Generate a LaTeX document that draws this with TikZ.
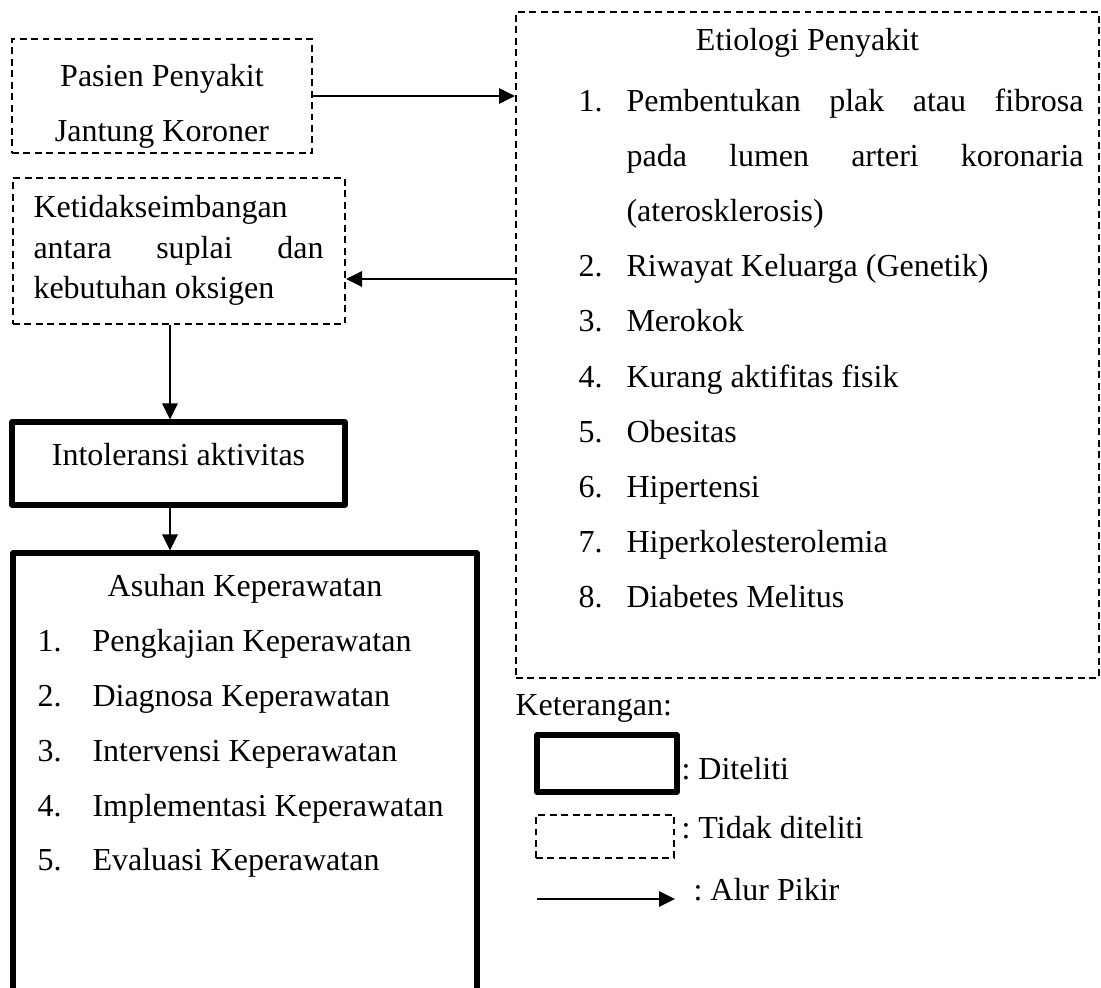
\documentclass[tikz,border=0pt]{standalone}
\usepackage{fontspec}
\setmainfont{Liberation Serif}
\usetikzlibrary{arrows.meta,fit}
\newlength\upx
\setlength\upx{0.375pt}
\frenchspacing
\begin{document}
\begin{tikzpicture}[x=0.375pt,y=-0.375pt,
  font=\fontsize{12pt}{14pt}\selectfont,
  dbox/.style={draw,dash pattern=on 2.6pt off 1.7pt,line width=0.75pt,inner sep=0pt},
  tbox/.style={draw,line width=1.9pt,line join=round,inner sep=0pt},
  arr/.style={line width=1.1pt,-{Triangle[length=6pt,width=5.6pt]}},
  txt/.style={inner sep=0pt,anchor=base west},
  ctxt/.style={inner sep=0pt,anchor=base}]
\clip (0,0) rectangle (1101,987);
% box corners
\coordinate (p1) at (12,39);   \coordinate (p2) at (312,153);
\coordinate (k1) at (13,178);  \coordinate (k2) at (345,324);
\coordinate (i1) at (12,422);  \coordinate (i2) at (345,505);
\coordinate (a1) at (13,553);  \coordinate (a2) at (477,1010);
\coordinate (e1) at (516,12);  \coordinate (e2) at (1099,678);
\coordinate (l1) at (537,735); \coordinate (l2) at (677,792);
\coordinate (m1) at (536,815); \coordinate (m2) at (674,858);
\node[dbox,fit=(p1)(p2)] (pasien) {};
\node[dbox,fit=(k1)(k2)] (ketidak) {};
\node[tbox,fit=(i1)(i2)] (intol) {};
\node[tbox,fit=(a1)(a2)] (asuhan) {};
\node[dbox,fit=(e1)(e2)] (etio) {};
\node[tbox,fit=(l1)(l2)] (legthick) {};
\node[dbox,fit=(m1)(m2)] (legdash) {};
% texts
\node[ctxt] (tp1) at (162,87) {Pasien Penyakit};
\node[ctxt] (tp2) at (162,142) {Jantung Koroner};
\node[txt] (tk1) at (33,218) {Ketidakseimbangan};
\node[txt] (tk2) at (33,258) {\makebox[290\upx][s]{antara suplai dan}};
\node[txt] (tk3) at (33,298) {kebutuhan oksigen};
\node[ctxt] (ti) at (178.5,465) {Intoleransi aktivitas};
\node[ctxt] (ta0) at (245,596) {Asuhan Keperawatan};
\foreach \n/\t/\y in {1/Pengkajian Keperawatan/651,2/Diagnosa Keperawatan/706,3/Intervensi Keperawatan/761,4/Implementasi Keperawatan/816,5/Evaluasi Keperawatan/870}{
  \node[txt] (an\n) at (37,\y) {\n.};
  \node[txt] (at\n) at (92,\y) {\t};
}
\node[ctxt] (te0) at (807.5,51) {Etiologi Penyakit};
\node[txt] (en1) at (578,112) {1.};
\node[txt] (et1a) at (626,112) {\makebox[457\upx][s]{Pembentukan plak atau fibrosa}};
\node[txt] (et1b) at (626,167) {\makebox[457\upx][s]{pada lumen arteri koronaria}};
\node[txt] (et1c) at (626,222) {(aterosklerosis)};
\foreach \n/\t/\y in {2/Riwayat Keluarga (Genetik)/277,3/Merokok/332,4/Kurang aktifitas fisik/387,5/Obesitas/442,6/Hipertensi/497,7/Hiperkolesterolemia/552,8/Diabetes Melitus/607}{
  \node[txt] (en\n) at (578,\y) {\n.};
  \node[txt] (et\n) at (626,\y) {\t};
}
\node[txt] (ket) at (515,715) {Keterangan:};
\node[txt] (lt1) at (681,779) {: Diteliti};
\node[txt] (lt2) at (681,838) {: Tidak diteliti};
\node[txt] (lt3) at (693,900) {: Alur Pikir};
% connectors
\draw[arr] (pasien.east) -- (pasien.east -| etio.west);
\coordinate (y279) at (0,279);
\draw[arr] (etio.west |- y279) -- (ketidak.east |- y279);
\coordinate (x170) at (170,0);
\draw[arr] (ketidak.south -| x170) -- (intol.north -| x170);
\draw[arr] (intol.south -| x170) -- (asuhan.north -| x170);
\coordinate (la1) at (537,899);
\coordinate (la2) at (675,899);
\draw[arr] (la1) -- (la2);
\end{tikzpicture}
\end{document}
